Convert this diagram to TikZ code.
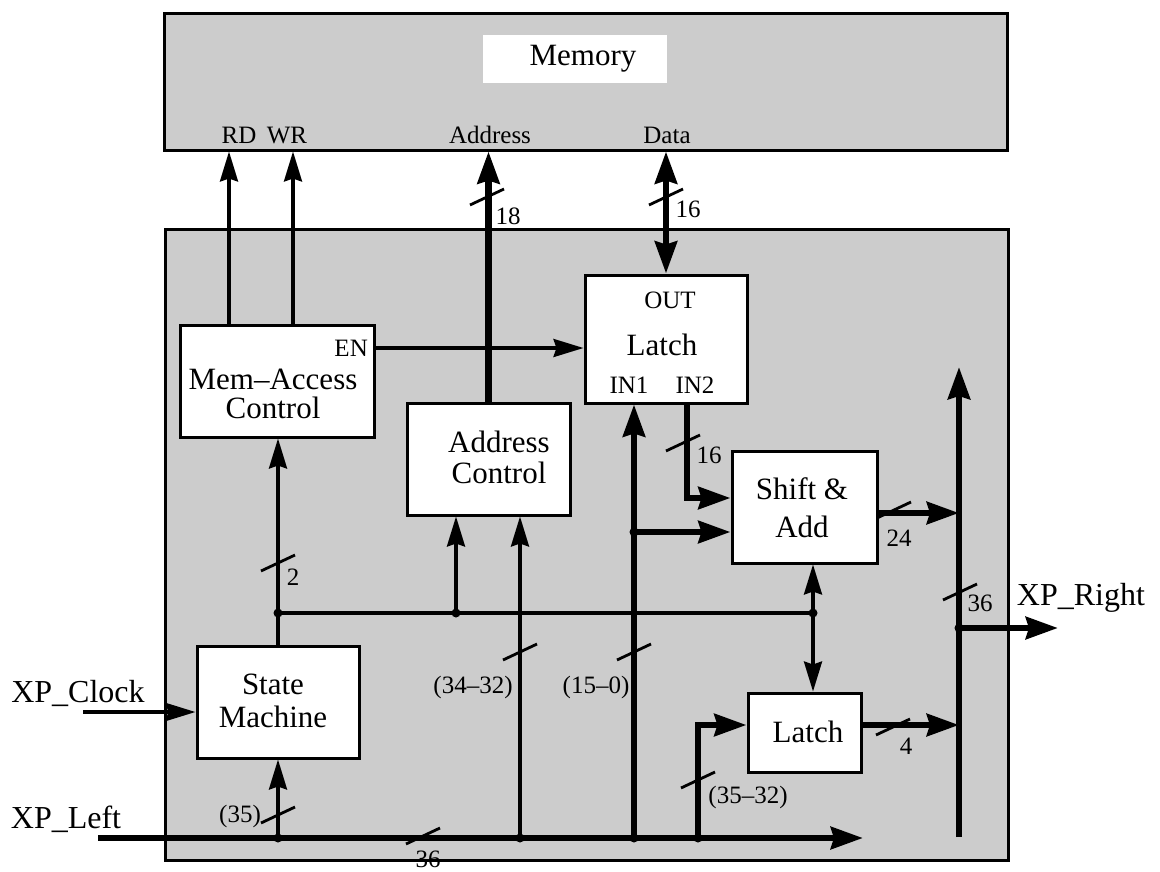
\documentclass[tikz,border=0pt]{standalone}
\usepackage{fontspec}
\setmainfont{Liberation Serif}
\usetikzlibrary{arrows.meta}
\begin{document}
\begin{tikzpicture}[x=1pt,y=-1pt,
  panel/.style={draw,fill=black!20,line width=3pt,inner sep=0pt},
  box/.style={draw,fill=white,line width=3pt,inner sep=0pt},
  big/.style={font=\fontsize{31}{31}\selectfont,inner sep=0pt,align=center},
  small/.style={font=\fontsize{25}{25}\selectfont,inner sep=0pt},
  xp/.style={font=\fontsize{32}{32}\selectfont,inner sep=0pt,anchor=base},
  sig/.style={line width=3.2pt},
  bus/.style={line width=6.4pt},
  arr/.style={-{Stealth[length=30pt,width=18pt,inset=3pt]}},
  darr/.style={{Stealth[length=30pt,width=18pt,inset=3pt]}-{Stealth[length=30pt,width=18pt,inset=3pt]}},
  barr/.style={-{Stealth[length=32pt,width=22pt,inset=3pt]}},
  bdarr/.style={{Stealth[length=32pt,width=22pt,inset=3pt]}-{Stealth[length=32pt,width=22pt,inset=3pt]}},
  slashmark/.style={line width=2.8pt},
  dot/.style={circle,fill=black,inner sep=0pt,minimum size=9pt}
]
\useasboundingbox (0,0) rectangle (1160,871);

% panels
\node[panel,minimum width=843pt,minimum height=137pt] (mem) at (585.5,81.5) {};
\node[fill=white,inner sep=0pt,minimum width=184pt,minimum height=48pt] (memlbl) at (575,59) {};
\node[big] (memtxt) at (583,59) {Memory};
\node[small] (rd) at (239,135) {RD};
\node[small] (wr) at (287,135) {WR};
\node[small] (addrlbl) at (490,135) {Address};
\node[small] (datalbl) at (667,135) {Data};

\node[panel,minimum width=843pt,minimum height=631pt] (main) at (586.5,544.5) {};

% blocks
\node[box,minimum width=194pt,minimum height=112pt] (mac) at (277,381) {};
\node[big,font=\fontsize{31}{29}\selectfont] (mactxt) at (273,394) {Mem--Access\\Control};
\node[small,anchor=east] (en) at (368,348) {EN};

\node[box,minimum width=163pt,minimum height=112pt] (adc) at (488.5,459) {};
\node[big] (adctxt) at (499,457.5) {Address\\Control};

\node[box,minimum width=162pt,minimum height=128pt] (la) at (666,339) {};
\node[small] (outl) at (670,300) {OUT};
\node[big] (latxt) at (662,345) {Latch};
\node[small] (in1) at (629,385) {IN1};
\node[small] (in2) at (695,385) {IN2};

\node[box,minimum width=145pt,minimum height=112pt] (sa) at (804.5,507) {};
\node[big,font=\fontsize{31}{38}\selectfont] (satxt) at (802,507.5) {Shift \&\\Add};

\node[box,minimum width=162pt,minimum height=112pt] (sm) at (278,702) {};
\node[big,font=\fontsize{31}{33}\selectfont] (smtxt) at (273,701) {State\\Machine};

\node[box,minimum width=113pt,minimum height=79pt] (lb) at (804.5,732.5) {};
\node[big] (lbtxt) at (808,732) {Latch};

% coordinates
\coordinate (rdx) at (229,0);
\coordinate (wrx) at (293,0);
\coordinate (eny) at (0,348);
\coordinate (j1) at (278,613);
\coordinate (j2) at (456,613);
\coordinate (j3) at (813,613);
\coordinate (xl0) at (98,838);
\coordinate (xl1) at (863,838);
\coordinate (b1) at (278,838);
\coordinate (b2) at (520,838);
\coordinate (b3) at (634,838);
\coordinate (b4) at (698,838);
\coordinate (ji) at (634,532);
\coordinate (in2c) at (687,498);
\coordinate (lbin) at (698,725);
\coordinate (lbo) at (959,725);
\coordinate (sao) at (959,513);
\coordinate (rb0) at (959,837);
\coordinate (rb1) at (959,367);
\coordinate (jr) at (959,628);
\coordinate (xr) at (1058,628);
\coordinate (xc) at (83,712);

% memory interface
\draw[sig,arr] (mac.north -| rdx) -- (mem.south -| rdx);
\draw[sig,arr] (mac.north -| wrx) -- (mem.south -| wrx);
\draw[bus,barr] (adc.north) -- (adc.north |- mem.south);
\draw[bus,bdarr] (la.north |- mem.south) -- (la.north);

% EN
\draw[sig,arr] (mac.east |- eny) -- (la.west |- eny);

% state machine
\draw[sig,arr] (sm.north) -- (sm.north |- mac.south);
\draw[sig] (j1) -- (j3);
\draw[sig,arr] (j2) -- (j2 |- adc.south);
\draw[sig,darr] (sa.south -| j3) -- (lb.north -| j3);
\draw[line width=3.8pt,arr] (xc) -- (sm.west |- xc);

% XP_Left bus
\draw[bus,barr] (xl0) -- (xl1);
\draw[sig,arr] (b1) -- (sm.south -| b1);
\draw[sig,arr] (b2) -- (b2 |- adc.south);
\draw[bus,barr] (b3) -- (b3 |- la.south);
\draw[bus,barr] (ji) -- (sa.west |- ji);
\draw[bus,barr] (la.south -| in2c) -- (in2c) -- (sa.west |- in2c);
\draw[bus,barr] (b4) -- (lbin) -- (lb.west |- lbin);

% outputs
\draw[bus,barr] (sa.east |- sao) -- (sao);
\draw[bus,barr] (lb.east |- lbo) -- (lbo);
\draw[bus,barr] (rb0) -- (rb1);
\draw[bus,barr] (jr) -- (xr);

% junction dots
\foreach \p in {j1,j2,j3,b1,b2,b3,b4,ji,jr} \node[dot] at (\p) {};

% slashes
\foreach \sx/\sy in {487/197, 666/197, 278/563, 278/815, 423/836, 520/652, 634/652, 698/780, 683/443, 894/510, 893/727, 960/592}
  \draw[slashmark] (\sx-17,\sy+8) -- (\sx+17,\sy-8);

% width labels
\node[small] (n18) at (508,216) {18};
\node[small] (n16a) at (688,209) {16};
\node[small] (n2) at (293,577) {2};
\node[small] (n35) at (240,816) {(35)};
\node[small] (n36a) at (428,859) {36};
\node[small] (n3432) at (473,687) {(34--32)};
\node[small] (n150) at (596,687) {(15--0)};
\node[small] (n3532) at (748,797) {(35--32)};
\node[small] (n16b) at (709,455) {16};
\node[small] (n24) at (899,538) {24};
\node[small] (n4) at (906,746) {4};
\node[small] (n36b) at (980,603) {36};

% external labels
\node[xp] (xpclock) at (78,702) {XP\_Clock};
\node[xp] (xpleft) at (66,828) {XP\_Left};
\node[xp] (xpright) at (1081,605) {XP\_Right};
\end{tikzpicture}
\end{document}
